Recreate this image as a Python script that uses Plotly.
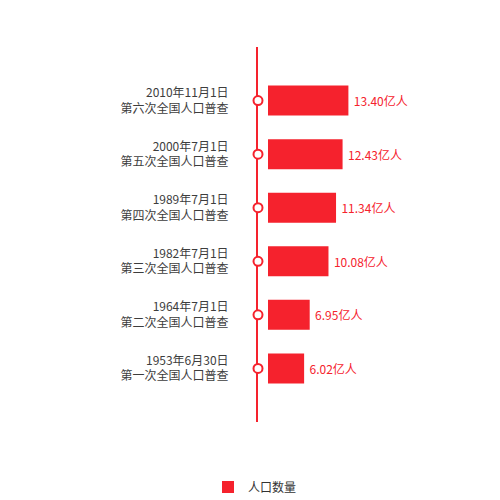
import plotly.graph_objects as go

dates = ["1953年6月30日", "1964年7月1日", "1982年7月1日", "1989年7月1日", "2000年7月1日", "2010年11月1日"]
censuses = ["第一次全国人口普查", "第二次全国人口普查", "第三次全国人口普查", "第四次全国人口普查", "第五次全国人口普查", "第六次全国人口普查"]
population = [6.02, 6.95, 10.08, 11.34, 12.43, 13.40]
series_name = "人口数量"

RED = "#f5222d"
OFF = 8  # page body margin
W, H = 500 - OFF, 500 - OFF
L, T = 258 - OFF, 47 - OFF
PW, PH = 222, 375
R, B = W - L - PW, H - T - PH
px_per_unit = 6.0
gap_px = 10
x_min = -gap_px / px_per_unit
x_max = x_min + PW / px_per_unit

positions = list(range(len(population)))
ticktext = [f"{d}<br>{c}" for d, c in zip(dates, censuses)]
labels = [f"\u2009{v:.2f}亿人" for v in population]


def px_x(p):
    return (p - OFF - L) / PW


def px_y(p):
    return (T + PH - (p - OFF)) / PH


fig = go.Figure()
fig.add_trace(go.Bar(
    x=population, y=positions, orientation="h", name=series_name,
    marker=dict(color=RED, line=dict(width=0)),
    width=0.56,
    text=labels, textposition="outside",
    textfont=dict(color=RED, size=12, family="Noto Sans CJK SC"),
    cliponaxis=False, showlegend=True,
))
fig.add_trace(go.Scatter(
    x=[x_min] * len(positions), y=positions, mode="markers",
    marker=dict(size=9, color="white", line=dict(color=RED, width=2)),
    cliponaxis=False, showlegend=False, hoverinfo="skip",
))

fig.update_layout(
    width=W, height=H,
    margin=dict(l=L, r=R, t=T, b=B, autoexpand=False),
    paper_bgcolor="white", plot_bgcolor="white",
    font=dict(family="Noto Sans CJK SC", size=12, color="#444"),
    xaxis=dict(range=[x_min, x_max], visible=False, fixedrange=True, automargin=False),
    yaxis=dict(range=[-1, len(positions)], tickvals=positions, ticktext=ticktext,
               showline=True, linecolor=RED, linewidth=2, showgrid=False,
               zeroline=False, ticks="", ticklabelstandoff=25, automargin=False,
               layer="below traces",
               tickfont=dict(size=12, color="#3d3d3d")),
    legend=dict(orientation="h", x=px_x(255), xanchor="center",
                y=px_y(487), yanchor="middle",
                font=dict(size=12, color="#333"), itemwidth=30),
)

fig.write_html("out.html")
